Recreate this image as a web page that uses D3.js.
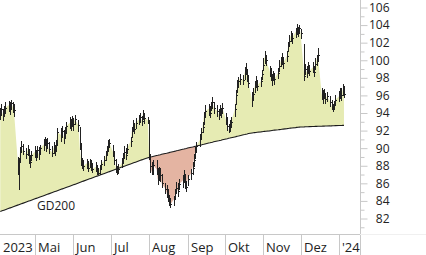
<!DOCTYPE html>
<html>
<head>
<meta charset="utf-8">
<script src="https://cdn.jsdelivr.net/npm/d3@7"></script>
<style>
  html, body { margin: 0; padding: 0; background: #fff; }
  svg { display: block; font-family: "Open Sans", sans-serif; }
</style>
</head>
<body>
<div id="chart"></div>
<script>
// Kursdaten, Handelstage Mo-Fr ab 3.4.2023, je Zeile eine Woche
var high = [
  94.6, 95.0, 94.5, 94.8, 95.2,
  95.4, 95.3, 95.5, 95.3, 95.0,
  89.0, 88.9, 90.1, 90.8, 90.5,
  90.0, 90.4, 89.8, 89.2, 89.7,
  90.2, 89.8, 90.3, 90.1, 90.4,
  91.0, 91.3, 91.0, 91.1, 90.7,
  90.3, 90.7, 90.4, 90.9, 92.3,
  92.3, 92.5, 92.1, 92.4, 93.0,
  93.5, 93.3, 93.7, 93.4, 93.8,
  93.2, 92.4, 90.6, 88.9, 88.6,
  88.8, 88.5, 88.8, 88.6, 88.3,
  88.4, 88.1, 87.8, 88.1, 88.7,
  89.1, 89.7, 90.3, 90.9, 91.0,
  90.4, 89.7, 88.8, 88.0, 88.2,
  88.9, 89.5, 90.2, 90.0, 90.5,
  91.3, 92.4, 93.2, 92.9, 93.4,
  93.8, 94.0, 93.7, 94.3, 94.0,
  93.6, 93.2, 89.3, 88.4, 88.6,
  88.6, 87.8, 87.9, 87.7, 87.1,
  86.0, 85.8, 85.3, 84.7, 84.3,
  84.6, 85.4, 86.2, 86.0, 86.5,
  86.9, 87.5, 87.1, 86.3, 87.0,
  87.6, 88.4, 89.3, 90.1, 90.7,
  91.6, 92.3, 93.0, 94.1, 94.9,
  95.0, 94.8, 95.3, 95.8, 95.2,
  94.9, 94.4, 94.9, 94.6, 95.1,
  94.0, 93.5, 92.8, 93.2, 93.6,
  95.0, 96.6, 97.8, 98.1, 98.4,
  98.3, 99.2, 99.7, 98.9, 98.2,
  96.4, 96.8, 97.6, 98.2, 97.8,
  98.1, 98.9, 100.3, 101.1, 100.6,
  99.4, 99.1, 98.4, 98.8, 98.6,
  99.1, 100.0, 100.4, 100.8, 100.4,
  101.1, 102.1, 102.9, 103.3, 103.1,
  103.7, 104.1, 103.8, 104.0, 103.6,
  101.8, 99.6, 99.3, 99.8, 99.5,
  99.8, 99.4, 100.2, 100.6, 101.4,
  96.9, 96.6, 96.7, 96.2, 96.4,
  95.9, 95.5, 95.0, 95.4, 96.1,
  96.5, 96.9, 96.8, 97.3, 97.1
]

var low = [
  93.2, 93.7, 93.1, 93.5, 93.9,
  94.1, 93.8, 94.3, 94.0, 93.6,
  87.0, 85.2, 88.3, 89.4, 89.2,
  88.8, 89.1, 88.2, 87.8, 88.5,
  88.9, 88.5, 89.0, 88.7, 89.3,
  89.7, 90.2, 89.6, 89.9, 89.3,
  89.0, 89.3, 89.1, 89.6, 90.3,
  90.7, 91.2, 90.5, 91.0, 91.6,
  92.2, 91.9, 92.4, 92.0, 92.6,
  91.8, 89.8, 88.0, 87.6, 87.4,
  87.6, 87.3, 87.8, 87.4, 87.2,
  87.3, 86.9, 86.9, 87.0, 87.5,
  88.0, 88.5, 89.2, 89.6, 90.0,
  89.0, 88.1, 87.2, 86.9, 87.1,
  87.7, 88.2, 88.9, 88.6, 89.3,
  90.1, 91.1, 91.8, 91.6, 92.2,
  92.6, 92.9, 92.5, 93.2, 92.8,
  92.7, 88.6, 87.2, 86.9, 87.0,
  86.9, 85.8, 86.4, 86.1, 85.5,
  84.8, 84.3, 83.9, 83.4, 83.2,
  83.4, 84.1, 84.9, 84.5, 85.2,
  85.5, 86.0, 85.3, 85.0, 85.7,
  86.4, 87.0, 87.9, 88.8, 89.4,
  90.1, 91.0, 91.7, 92.6, 93.4,
  93.7, 93.4, 94.2, 94.5, 93.9,
  93.5, 93.2, 93.7, 93.4, 93.9,
  92.6, 91.9, 91.7, 91.9, 92.3,
  93.5, 94.9, 96.3, 96.9, 97.2,
  97.2, 97.8, 98.3, 97.5, 96.8,
  94.7, 95.4, 96.3, 96.8, 96.5,
  97.0, 97.8, 98.8, 99.6, 99.3,
  98.1, 97.6, 97.1, 97.6, 97.2,
  97.9, 98.7, 99.2, 99.5, 99.0,
  99.8, 100.9, 101.5, 102.1, 101.8,
  102.5, 102.9, 102.6, 103.0, 102.4,
  97.6, 98.3, 98.0, 98.6, 98.2,
  98.5, 98.1, 98.9, 99.4, 99.8,
  95.5, 95.0, 95.6, 95.0, 95.3,
  94.7, 94.3, 94.1, 94.3, 94.8,
  95.2, 95.6, 95.4, 95.9, 95.7
]

var close = [
  94.0, 94.4, 93.8, 94.2, 94.6,
  94.9, 94.5, 95.1, 94.7, 94.3,
  88.7, 88.4, 89.6, 90.2, 89.7,
  89.3, 89.9, 88.9, 88.4, 89.2,
  89.6, 89.0, 89.8, 89.3, 90.0,
  90.4, 91.0, 90.2, 90.6, 89.9,
  89.5, 90.1, 89.7, 90.4, 91.8,
  91.5, 92.0, 91.2, 91.8, 92.5,
  92.9, 92.6, 93.2, 92.8, 93.3,
  92.6, 90.2, 88.6, 88.2, 88.0,
  88.3, 87.8, 88.4, 88.0, 87.6,
  87.9, 87.4, 87.2, 87.6, 88.2,
  88.6, 89.2, 89.8, 90.3, 90.6,
  89.5, 88.6, 87.8, 87.3, 87.6,
  88.3, 88.9, 89.6, 89.2, 89.9,
  90.8, 91.9, 92.6, 92.2, 92.9,
  93.3, 93.6, 93.1, 93.9, 93.4,
  93.2, 88.8, 88.0, 87.2, 88.1,
  87.6, 86.4, 87.2, 86.9, 86.0,
  85.4, 85.0, 84.5, 84.0, 83.6,
  84.2, 84.9, 85.5, 85.1, 85.9,
  86.3, 86.8, 86.1, 85.6, 86.5,
  87.2, 87.8, 88.7, 89.6, 90.2,
  91.0, 91.8, 92.4, 93.6, 94.2,
  94.5, 94.0, 94.9, 95.2, 94.6,
  94.2, 93.8, 94.4, 94.0, 94.6,
  93.2, 92.5, 92.0, 92.6, 93.0,
  94.4, 96.0, 97.3, 97.6, 97.9,
  97.8, 98.6, 99.0, 98.3, 97.4,
  95.5, 96.2, 97.0, 97.5, 97.1,
  97.6, 98.4, 99.5, 100.4, 100.0,
  98.9, 98.2, 97.7, 98.3, 97.9,
  98.6, 99.4, 99.9, 100.2, 99.7,
  100.5, 101.6, 102.2, 102.8, 102.5,
  103.2, 103.6, 103.3, 103.7, 103.1,
  98.2, 99.0, 98.6, 99.3, 98.8,
  99.2, 98.7, 99.6, 100.1, 100.6,
  96.2, 95.8, 96.3, 95.6, 95.9,
  95.3, 94.8, 94.4, 94.9, 95.5,
  95.9, 96.4, 96.0, 96.7, 96.2
]

// gleitender Durchschnitt 200 Tage
var gd200 = [
  82.80, 82.85, 82.90, 82.95, 83.00,
  83.16, 83.21, 83.26, 83.31, 83.36,
  83.52, 83.57, 83.62, 83.67, 83.72,
  83.88, 83.93, 83.98, 84.03, 84.08,
  84.24, 84.29, 84.34, 84.39, 84.44,
  84.60, 84.65, 84.70, 84.75, 84.80,
  84.96, 85.01, 85.06, 85.11, 85.16,
  85.32, 85.37, 85.42, 85.47, 85.52,
  85.68, 85.73, 85.78, 85.83, 85.88,
  86.05, 86.10, 86.15, 86.20, 86.25,
  86.41, 86.46, 86.51, 86.56, 86.61,
  86.77, 86.82, 86.87, 86.92, 86.97,
  87.13, 87.18, 87.23, 87.28, 87.33,
  87.49, 87.54, 87.59, 87.64, 87.69,
  87.85, 87.90, 87.95, 88.00, 88.05,
  88.21, 88.26, 88.31, 88.36, 88.41,
  88.57, 88.62, 88.67, 88.72, 88.77,
  88.92, 88.95, 88.99, 89.02, 89.06,
  89.16, 89.19, 89.23, 89.26, 89.30,
  89.39, 89.42, 89.46, 89.49, 89.53,
  89.63, 89.66, 89.70, 89.73, 89.77,
  89.87, 89.90, 89.94, 89.97, 90.01,
  90.10, 90.13, 90.17, 90.20, 90.24,
  90.34, 90.37, 90.41, 90.44, 90.48,
  90.58, 90.61, 90.65, 90.68, 90.72,
  90.81, 90.84, 90.88, 90.91, 90.95,
  91.05, 91.08, 91.12, 91.15, 91.19,
  91.28, 91.31, 91.35, 91.38, 91.42,
  91.52, 91.55, 91.59, 91.62, 91.66,
  91.73, 91.75, 91.77, 91.79, 91.81,
  91.85, 91.87, 91.89, 91.91, 91.93,
  91.97, 91.99, 92.01, 92.03, 92.05,
  92.09, 92.11, 92.13, 92.15, 92.17,
  92.22, 92.24, 92.26, 92.28, 92.30,
  92.34, 92.36, 92.38, 92.39, 92.40,
  92.42, 92.43, 92.44, 92.44, 92.45,
  92.46, 92.47, 92.48, 92.48, 92.49,
  92.50, 92.51, 92.51, 92.52, 92.52,
  92.53, 92.54, 92.55, 92.55, 92.56,
  92.57, 92.58, 92.58, 92.59, 92.59
]

var monthLabels = ['2023', 'Mai', 'Jun', 'Jul', 'Aug', 'Sep', 'Okt', 'Nov', 'Dez', "'24"]
var yTickLabels = [82, 84, 86, 88, 90, 92, 94, 96, 98, 100, 102, 104, 106]

/**
 * Konstanten
 */
var width = 426
var height = 255
var plotRight = 360
var plotBottom = 234
var axisColor = '#c8c8c8'
var textColor = '#222'

// Handelstage (Mo-Fr), 3.4.2023 bis 5.1.2024
var dates = d3.timeDay.range(new Date(2023, 3, 3), new Date(2024, 0, 6))
  .filter(d => d.getDay() !== 0 && d.getDay() !== 6)

var rows = dates.map((d, i) => ({
  date: d,
  high: high[i],
  low: low[i],
  close: close[i],
  ma: gd200[i]
}))

/**
 * Skalen
 */
var x = d3.scaleTime()
  .domain([new Date(2023, 4, 1), new Date(2024, 0, 1)])
  .range([35, 339])

var y = d3.scaleLinear()
  .domain([82, 106])
  .range([218.5, 7.5])

var svg = d3.select('#chart')
  .append('svg')
  .attr('width', width)
  .attr('height', height)

svg.append('defs').append('clipPath')
  .attr('id', 'plotClip')
  .append('rect')
  .attr('x', 0)
  .attr('y', 0)
  .attr('width', plotRight)
  .attr('height', plotBottom)

var plot = svg.append('g').attr('clip-path', 'url(#plotClip)')

/**
 * Flaechen zwischen Kurs und GD200
 */
var areaAbove = d3.area()
  .x(d => x(d.date))
  .y0(d => y(d.ma))
  .y1(d => y(Math.max(d.close, d.ma)))

var areaBelow = d3.area()
  .x(d => x(d.date))
  .y0(d => y(d.ma))
  .y1(d => y(Math.min(d.close, d.ma)))

plot.append('path')
  .attr('d', areaAbove(rows))
  .attr('fill', '#e6ebb3')

plot.append('path')
  .attr('d', areaBelow(rows))
  .attr('fill', '#e4b4a2')

/**
 * OHLC-Balken
 */
var bars = plot.append('g')
  .attr('stroke', '#222')
  .attr('stroke-width', 1)
  .attr('shape-rendering', 'crispEdges')

bars.selectAll('line.hl')
  .data(rows)
  .enter()
  .append('line')
  .attr('class', 'hl')
  .attr('x1', d => Math.round(x(d.date)) + 0.5)
  .attr('x2', d => Math.round(x(d.date)) + 0.5)
  .attr('y1', d => y(d.high))
  .attr('y2', d => y(d.low))

bars.selectAll('line.cl')
  .data(rows)
  .enter()
  .append('line')
  .attr('class', 'cl')
  .attr('x1', d => Math.round(x(d.date)) + 1)
  .attr('x2', d => Math.round(x(d.date)) + 2)
  .attr('y1', d => Math.round(y(d.close)) + 0.5)
  .attr('y2', d => Math.round(y(d.close)) + 0.5)

/**
 * GD200 Linie
 */
var maLine = d3.line()
  .x(d => x(d.date))
  .y(d => y(d.ma))

plot.append('path')
  .attr('d', maLine(rows))
  .attr('fill', 'none')
  .attr('stroke', '#1c1c1c')
  .attr('stroke-width', 1.1)

svg.append('text')
  .text('GD200')
  .attr('x', 37)
  .attr('y', 210)
  .attr('fill', textColor)
  .attr('font-size', '12px')

/**
 * y-Achse rechts
 */
var yAxisG = svg.append('g')
  .attr('transform', `translate(${plotRight + 0.5},0)`)

yAxisG.append('g')
  .call(d3.axisRight(y)
    .tickValues(d3.range(81, 107, 2))
    .tickSize(4)
    .tickFormat(''))

yAxisG.append('g')
  .call(d3.axisRight(y)
    .tickValues(yTickLabels)
    .tickSize(7)
    .tickPadding(4))

yAxisG.selectAll('.domain').remove()
yAxisG.selectAll('line').attr('stroke', axisColor)
yAxisG.selectAll('text')
  .attr('text-anchor', 'end')
  .attr('x', 29)
  .attr('fill', textColor)
  .attr('font-size', '12px')
  .attr('font-family', '"Open Sans", sans-serif')

svg.append('line')
  .attr('x1', plotRight + 0.5)
  .attr('x2', plotRight + 0.5)
  .attr('y1', 0)
  .attr('y2', height)
  .attr('stroke', axisColor)

/**
 * x-Achse mit Monaten
 */
svg.append('line')
  .attr('x1', 0)
  .attr('x2', plotRight)
  .attr('y1', plotBottom + 0.5)
  .attr('y2', plotBottom + 0.5)
  .attr('stroke', axisColor)

svg.append('line')
  .attr('x1', plotRight)
  .attr('x2', width)
  .attr('y1', plotBottom + 0.5)
  .attr('y2', plotBottom + 0.5)
  .attr('stroke', '#f0f0f0')

var months = d3.timeMonth.range(new Date(2023, 3, 1), new Date(2024, 1, 1))

var monthG = svg.append('g')
  .selectAll('g')
  .data(months)
  .enter()
  .append('g')

monthG.filter(d => x(d) > 0)
  .append('line')
  .attr('x1', d => Math.round(x(d)) + 0.5)
  .attr('x2', d => Math.round(x(d)) + 0.5)
  .attr('y1', plotBottom)
  .attr('y2', height)
  .attr('stroke', axisColor)

monthG.append('text')
  .text((d, i) => monthLabels[i])
  .attr('x', d => Math.max(Math.round(x(d)), 0) + 3)
  .attr('y', 252)
  .attr('fill', textColor)
  .attr('font-size', '13px')
</script>
</body>
</html>
